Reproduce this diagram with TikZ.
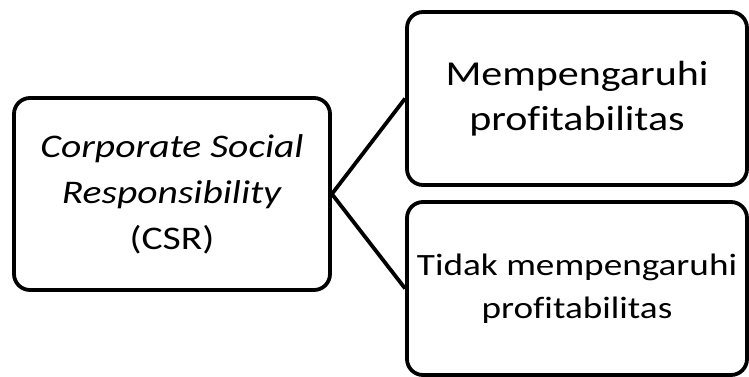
\documentclass[tikz,border=0pt]{standalone}
\usepackage{fontspec}
\setmainfont[FakeStretch=1.2,Ligatures=NoCommon]{Carlito}
\begin{document}
\begin{tikzpicture}[x=1pt,y=-1pt,
  kotak/.style={draw, line width=3.8pt, rounded corners=16pt, align=center, inner sep=0pt},
  garis/.style={draw, line width=3.8pt, -}]
\useasboundingbox (0,0) rectangle (749,377);
\node[kotak, minimum width=316pt, minimum height=192pt, font=\fontsize{33}{46}\selectfont] (csr) at (172,194) {\textit{Corporate Social}\\ \textit{Responsibility}\\ (CSR)};
\node[kotak, minimum width=340pt, minimum height=173pt, font=\fontsize{35}{45}\selectfont] (ya) at (577,98.5) {Mempengaruhi\\ profitabilitas};
\node[kotak, minimum width=340pt, minimum height=173pt, font=\fontsize{31}{43}\selectfont] (tidak) at (577,288.5) {Tidak mempengaruhi\\ profitabilitas};
\path[garis] (csr.east) -- (ya.west);
\path[garis] (csr.east) -- (tidak.west);
\end{tikzpicture}
\end{document}
